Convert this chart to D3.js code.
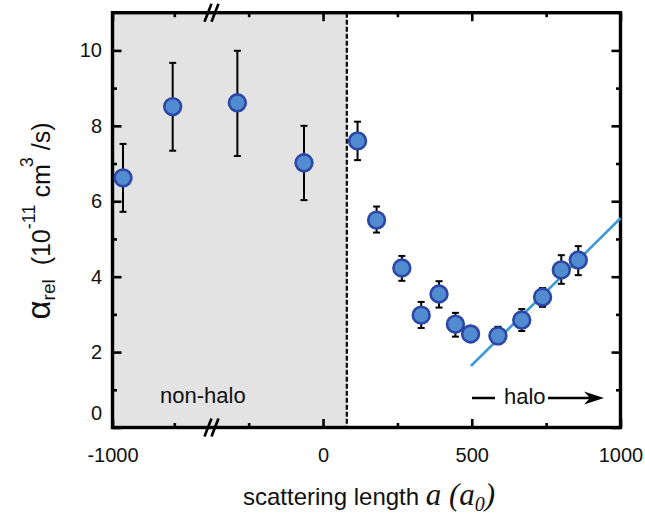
<!DOCTYPE html>
<html><head><meta charset="utf-8">
<script src="https://cdn.jsdelivr.net/npm/d3@7"></script>
<style>
body{margin:0;background:#fff}
text{font-family:"Liberation Sans",Arial,Helvetica,sans-serif;fill:#111}
</style>
</head><body>
<svg id="c" width="645" height="514"></svg>
<script>
// ---- data ----
const nonHaloA  = [-915, -513, -288, -64];
const nonHaloV  = [6.62, 8.51, 8.61, 7.02];
const nonHaloHi = [7.52, 9.67, 9.99, 8.00];
const nonHaloLo = [5.72, 7.34, 7.20, 6.03];

const haloA  = [116, 180, 265, 330, 390, 445, 496, 588, 668, 738, 801, 858];
const haloV  = [7.60, 5.50, 4.23, 2.98, 3.54, 2.74, 2.48, 2.43, 2.85, 3.46, 4.18, 4.44];
const haloHi = [8.11, 5.86, 4.55, 3.33, 3.88, 3.04, 2.67, 2.67, 3.14, 3.70, 4.57, 4.81];
const haloLo = [7.09, 5.17, 3.89, 2.64, 3.18, 2.41, 2.30, 2.21, 2.56, 3.20, 3.81, 4.04];

const fitA = [497, 1000];
const fitV = [1.63, 5.55];

const xMajor = [-1000, 0, 500, 1000];
const xMinor = [-500, -250, 250, 750];
const yMajor = [0, 2, 4, 6, 8, 10];
const yMinor = [1, 3, 5, 7, 9];
const boundaryA = 80;     // dashed line separating non-halo / halo
const breakA = -375;      // axis break marker position

// ---- layout ----
const L = 112.5, T = 12.7, W = 508, H = 414.8;
const svg = d3.select("#c");
const g = svg.append("g").attr("transform", `translate(${L},${T})`);

const x = d3.scaleLinear().domain([-1000, -500, 1000]).range([0, 61.8, W]);
const y = d3.scaleLinear().domain([0, 11]).range([H, 0]);

// shaded non-halo region
g.append("rect").attr("x", 0).attr("y", 0)
  .attr("width", x(boundaryA)).attr("height", H).attr("fill", "#e3e3e3");

// dashed boundary
g.append("line").attr("x1", x(boundaryA)).attr("x2", x(boundaryA))
  .attr("y1", 0).attr("y2", H)
  .attr("stroke", "#111").attr("stroke-width", 2.3).attr("stroke-dasharray", "5,2");

// axes (inward ticks)
function styleAxis(sel) {
  sel.select(".domain").remove();
  sel.selectAll(".tick line").attr("stroke", "#000").attr("stroke-width", 2.6);
  sel.selectAll("text").style("font-size", "20px").attr("fill", "#111")
     .style("font-family", '"Liberation Sans",Arial,sans-serif');
}
const fmt = d => String(d);
g.append("g").attr("transform", `translate(0,${H})`)
  .call(d3.axisBottom(x).tickValues(xMajor).tickSize(-8.5).tickPadding(20.5).tickFormat(fmt)).call(styleAxis);
g.append("g").attr("transform", `translate(0,${H})`)
  .call(d3.axisBottom(x).tickValues(xMinor).tickSize(-4.5).tickFormat("")).call(styleAxis);
g.append("g")
  .call(d3.axisTop(x).tickValues(xMajor).tickSize(-8.5).tickFormat("")).call(styleAxis);
g.append("g")
  .call(d3.axisTop(x).tickValues(xMinor).tickSize(-4.5).tickFormat("")).call(styleAxis);

const yAx = g.append("g")
  .call(d3.axisLeft(y).tickValues(yMajor).tickSize(-9).tickPadding(10.5).tickFormat(fmt)).call(styleAxis);
yAx.selectAll(".tick").filter(d => d === 0).select("text").attr("y", -14);
g.append("g").call(d3.axisLeft(y).tickValues(yMinor).tickSize(-4.5).tickFormat("")).call(styleAxis);
g.append("g").attr("transform", `translate(${W},0)`)
  .call(d3.axisRight(y).tickValues(yMajor).tickSize(-9).tickFormat("")).call(styleAxis);
g.append("g").attr("transform", `translate(${W},0)`)
  .call(d3.axisRight(y).tickValues(yMinor).tickSize(-4.5).tickFormat("")).call(styleAxis);

// frame
g.append("rect").attr("x", 0).attr("y", 0).attr("width", W).attr("height", H)
  .attr("fill", "none").attr("stroke", "#000").attr("stroke-width", 3.4);

// axis break marks
[0, H].forEach(yy => {
  [-3.5, 3.5].forEach(off => {
    g.append("line")
      .attr("x1", x(breakA) + off - 3.5).attr("y1", yy + 9)
      .attr("x2", x(breakA) + off + 3.5).attr("y2", yy - 9)
      .attr("stroke", "#000").attr("stroke-width", 2.6);
  });
});

// halo fit line
g.append("line")
  .attr("x1", x(fitA[0])).attr("y1", y(fitV[0]))
  .attr("x2", x(fitA[1])).attr("y2", y(fitV[1]))
  .attr("stroke", "#3d9ad8").attr("stroke-width", 2.6);

// points
const pts = [];
nonHaloA.forEach((a, i) => pts.push({a, v: nonHaloV[i], hi: nonHaloHi[i], lo: nonHaloLo[i]}));
haloA.forEach((a, i) => pts.push({a, v: haloV[i], hi: haloHi[i], lo: haloLo[i]}));

const eb = g.append("g").attr("stroke", "#000").attr("stroke-width", 2);
pts.forEach(p => {
  const cx = x(p.a);
  eb.append("line").attr("x1", cx).attr("x2", cx).attr("y1", y(p.hi)).attr("y2", y(p.lo));
  eb.append("line").attr("x1", cx - 3.5).attr("x2", cx + 3.5).attr("y1", y(p.hi)).attr("y2", y(p.hi));
  eb.append("line").attr("x1", cx - 3.5).attr("x2", cx + 3.5).attr("y1", y(p.lo)).attr("y2", y(p.lo));
});
g.append("g").selectAll("circle").data(pts).join("circle")
  .attr("cx", d => x(d.a)).attr("cy", d => y(d.v)).attr("r", 8.4)
  .attr("fill", "#508ccf").attr("stroke", "#2c47a6").attr("stroke-width", 2.6);

// annotations
svg.append("text").attr("x", 160).attr("y", 403).style("font-size", "22px").text("non-halo");
svg.append("line").attr("x1", 472).attr("x2", 495).attr("y1", 398).attr("y2", 398)
  .attr("stroke", "#000").attr("stroke-width", 2.5);
svg.append("text").attr("x", 504).attr("y", 404).style("font-size", "22px").text("halo");
svg.append("line").attr("x1", 548).attr("x2", 592).attr("y1", 398).attr("y2", 398)
  .attr("stroke", "#000").attr("stroke-width", 2.5);
svg.append("path").attr("d", "M604,398 L584,391.5 L590,398 L584,404.5 Z").attr("fill", "#000");

// x label
const serif = '"Liberation Serif","Times New Roman",serif';
const xl = svg.append("text").attr("x", 243).attr("y", 505).style("white-space", "pre");
xl.append("tspan").style("font-size", "24px").text("scattering length ");
xl.append("tspan").style("font-size", "31px").style("font-family", serif).style("font-style", "italic").text("a (a");
xl.append("tspan").style("font-size", "20px").attr("dy", 6).style("font-family", serif).style("font-style", "italic").text("0");
xl.append("tspan").style("font-size", "31px").attr("dy", -6).style("font-family", serif).style("font-style", "italic").text(")");

// y label
const yl = svg.append("text").attr("transform", "translate(50,221) rotate(-90)")
  .attr("text-anchor", "middle").style("white-space", "pre");
yl.append("tspan").style("font-size", "33px").text("α");
yl.append("tspan").style("font-size", "19px").attr("dy", 5).text("rel");
yl.append("tspan").style("font-size", "25px").attr("dy", -5).text("  (10");
yl.append("tspan").style("font-size", "18px").attr("dy", -15).text("-11");
yl.append("tspan").style("font-size", "25px").attr("dy", 15).text(" cm");
yl.append("tspan").style("font-size", "18px").attr("dy", -17).attr("dx", -3).text("3");
yl.append("tspan").style("font-size", "25px").attr("dy", 17).text(" /s)");
</script>
</body></html>
